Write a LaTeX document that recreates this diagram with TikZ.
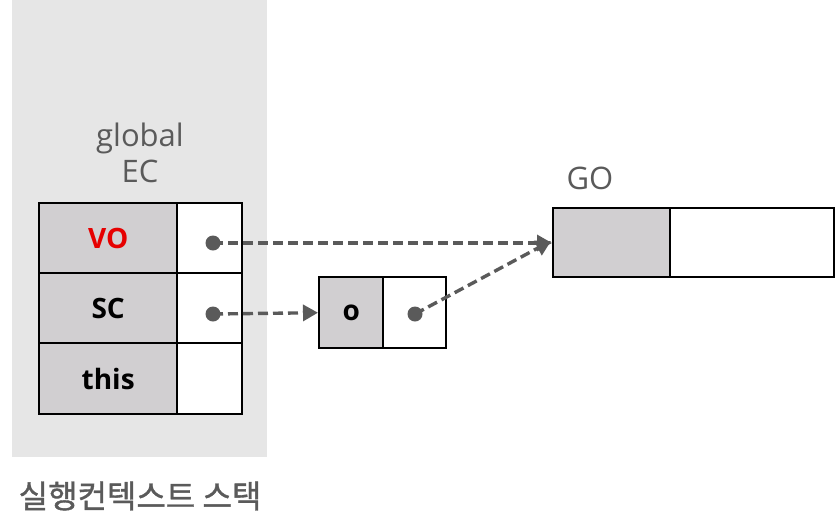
\documentclass[tikz,border=0pt]{standalone}
\usepackage{fontspec}
\setmainfont{Open Sans}
\newfontfamily\krfont{Noto Sans CJK KR}[FakeBold=1.2]
\usetikzlibrary{arrows.meta}
\definecolor{bgc}{HTML}{E6E6E6}
\definecolor{cellc}{HTML}{D1CFD1}
\definecolor{arrc}{HTML}{5A5A5A}
\definecolor{redc}{HTML}{E60000}
\tikzset{
  cellbox/.style={draw=black, line width=2.4pt, minimum width=#1, inner sep=0pt, anchor=north west},
  keycell/.style={fill=cellc, font=\bfseries\fontsize{28}{32}\selectfont},
  ptr/.style={draw=arrc, line width=3.4pt, dash pattern=on 10pt off 5pt, -{Triangle[length=15pt,width=16pt]}},
  dotc/.style={circle, fill=arrc, inner sep=0pt, minimum size=15pt},
  lbl/.style={text=arrc, font=\fontsize{31}{36}\selectfont, align=center}
}
\begin{document}
\begin{tikzpicture}[x=1pt,y=-1pt]
\useasboundingbox (0,0) rectangle (835,531);
\fill[bgc] (12,0) rectangle (267,457);
\node[lbl] (ec) at (140,153) {global\\EC};
% table
\node[cellbox=138pt, minimum height=70pt, keycell, text=redc] (vo) at (38,202) {VO};
\node[cellbox=65pt, minimum height=70pt, fill=white] (vov) at (176,202) {};
\node[cellbox=138pt, minimum height=70pt, keycell] (sc) at (38,272) {SC};
\node[cellbox=65pt, minimum height=70pt, fill=white] (scv) at (176,272) {};
\node[cellbox=138pt, minimum height=71pt, keycell] (th) at (38,342) {this};
\node[cellbox=65pt, minimum height=71pt, fill=white] (thv) at (176,342) {};
% o box
\node[cellbox=64pt, minimum height=71pt, keycell] (o) at (318,276) {o};
\node[cellbox=63pt, minimum height=71pt, fill=white] (ov) at (382,276) {};
% GO box
\node[lbl, anchor=base] (golbl) at (590,189) {GO};
\node[cellbox=117pt, minimum height=69pt, fill=cellc] (go) at (552,207) {};
\node[cellbox=164pt, minimum height=69pt, fill=white] (gov) at (669,207) {};
% dots
\node[dotc] (d1) at (213,243) {};
\node[dotc] (d2) at (213,314) {};
\node[dotc] (d3) at (415,314) {};
\coordinate (t1) at (552,243);
\coordinate (t3) at (551,241);
\draw[ptr] (d1.center) -- (t1);
\draw[ptr] (d2.center) -- (o.west);
\draw[ptr] (d3.center) -- (t3);
\node[text=arrc, font=\krfont\fontsize{32}{36}\selectfont] (stack) at (140,496) {실행컨텍스트 스택};
\end{tikzpicture}
\end{document}
